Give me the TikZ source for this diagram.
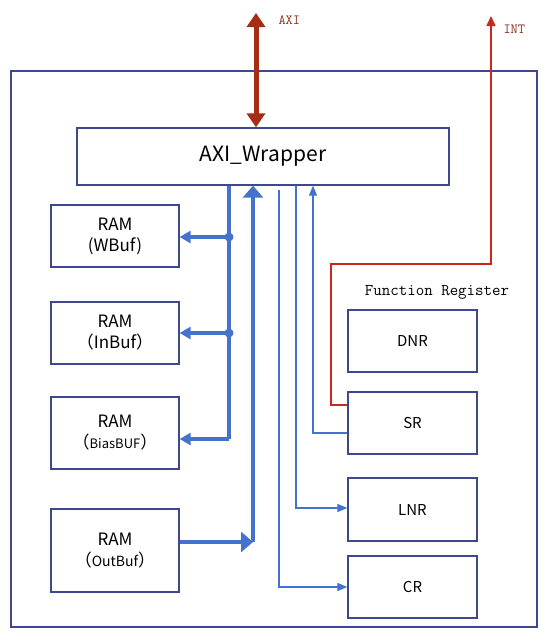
\documentclass[tikz,border=0pt]{standalone}
\usepackage{fontspec}
\setmainfont{Noto Sans CJK SC}
\usetikzlibrary{arrows.meta}
\definecolor{boxc}{RGB}{62,72,145}
\definecolor{busc}{RGB}{68,114,205}
\definecolor{redc}{RGB}{165,45,20}
\definecolor{labc}{RGB}{140,50,25}
\definecolor{intc}{RGB}{200,40,30}
\begin{document}
\begin{tikzpicture}[x=1pt,y=-1pt,
  blk/.style={draw=boxc,line width=1.3pt,fill=white,inner sep=0pt,align=center},
  ram/.style={blk,minimum width=128pt,font=\fontsize{17}{21}\selectfont},
  reg/.style={blk,minimum width=129pt,font=\fontsize{15}{18}\selectfont},
  bus/.style={draw=busc,line width=3.5pt},
  thin/.style={draw=busc,line width=1.2pt},
  tip/.style={-{Triangle[length=11pt,width=12pt]}},
  bigtip/.style={-{Triangle[length=12pt,width=20pt]}},
  smalltip/.style={-{Triangle[length=10pt,width=8pt]}}]
\useasboundingbox (0,0) rectangle (550,640);
\node[draw=boxc,line width=1.3pt,minimum width=526pt,minimum height=556pt,inner sep=0pt] (outer) at (274,349) {};
\node[blk,minimum width=372pt,minimum height=57pt,font=\fontsize{21}{25}\selectfont] (axi) at (263,156.5) {AXI\_Wrapper};
\node[ram,minimum height=62pt] (wbuf) at (115,236) {RAM\\(WBuf)};
\node[ram,minimum height=62pt] (inbuf) at (115,333) {RAM\\（InBuf）};
\node[ram,minimum height=72pt] (bias) at (115,433) {RAM\\（{\fontsize{13}{15}\selectfont BiasBUF}）};
\node[ram,minimum height=83pt] (outbuf) at (115,550.5) {RAM\\（{\fontsize{14}{16}\selectfont OutBuf}）};
\node[reg,minimum height=62pt] (dnr) at (412.5,341) {DNR};
\node[reg,minimum height=62pt] (sr) at (412.5,423) {SR};
\node[reg,minimum height=63pt] (lnr) at (412.5,509.5) {LNR};
\node[reg,minimum height=62pt] (cr) at (412.5,587) {CR};
\node[font=\ttfamily\fontsize{16.5}{19}\selectfont] (fr) at (437,292) {Function Register};
% coordinates
\coordinate (bA) at (229,0);
\coordinate (bB) at (253,542);
\coordinate (cT) at (279,190);
\coordinate (cL) at (296,0);
\coordinate (cS) at (313,0);
\coordinate (axitop) at (256,13);
\coordinate (inttop) at (491,16);
% AXI external arrow
\draw[draw=redc,line width=5pt,{Triangle[length=14pt,width=18pt]}-{Triangle[length=14pt,width=18pt]}] (axitop) -- (axitop |- axi.north);
\node[font=\ttfamily\fontsize{14}{16}\selectfont,text=labc,anchor=west] (axil) at (275,20) {AXI};
% RAM bus
\draw[bus] (axi.south -| bA) -- ([yshift=-6pt]bA |- bias.east);
\foreach \r/\o in {wbuf/-1pt,inbuf/0pt,bias/-6pt}{
  \draw[bus,tip] ([yshift=\o]bA |- \r.east) -- ([yshift=\o]\r.east);
}
\fill[busc] ([yshift=-1pt]bA |- wbuf.east) circle (4.5pt);
\fill[busc] (bA |- inbuf.east) circle (4.5pt);
% OutBuf to AXI
\draw[bus,bigtip] (bB) -- (bB |- axi.south);
\draw[bus,bigtip] (outbuf.east |- bB) -- (bB);
% register connections
\draw[thin,smalltip] (cT) |- (cr.west);
\draw[thin,smalltip] (axi.south -| cL) |- ([yshift=1.5pt]lnr.west);
\draw[thin,smalltip] ([yshift=-10pt]sr.west) -| (axi.south -| cS);
% interrupt
\draw[draw=intc,line width=1.5pt,-{Triangle[length=10pt,width=9pt]}] ([yshift=18pt]sr.west) -| (331,264) -| (inttop);
\node[font=\ttfamily\fontsize{14}{16}\selectfont,text=labc,anchor=west] (intl) at (500,29) {INT};
\end{tikzpicture}
\end{document}
